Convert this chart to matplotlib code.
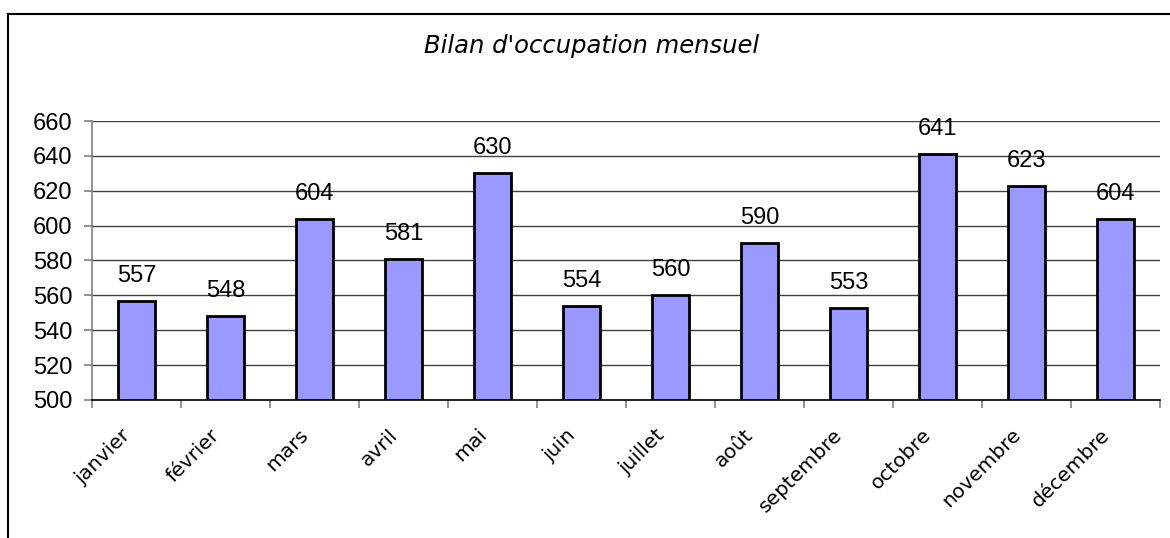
import matplotlib.pyplot as plt
import matplotlib.transforms as mtransforms
import numpy as np
from matplotlib.lines import Line2D

mois = ['janvier', 'février', 'mars', 'avril', 'mai', 'juin', 'juillet',
        'août', 'septembre', 'octobre', 'novembre', 'décembre']
occupation = [557, 548, 604, 581, 630, 554, 560, 590, 553, 641, 623, 604]
y_ticks = [500, 520, 540, 560, 580, 600, 620, 640, 660]

fig = plt.figure(figsize=(11.7, 5.38), dpi=100)
ax = fig.add_axes([92 / 1170, 1 - 400 / 538, (1160 - 92) / 1170, (400 - 121) / 538])

x = np.arange(len(mois))
ax.bar(x, [v - 500 for v in occupation], bottom=500, width=0.41,
       color='#9999FF', edgecolor='black', linewidth=2, zorder=3)

for xi, v in zip(x, occupation):
    ax.annotate(str(v), (xi, v), xytext=(0, 10), textcoords='offset points',
                ha='center', va='bottom', fontsize=17, family='Liberation Sans')

ax.set_xlim(-0.5, len(mois) - 0.5)
ax.set_ylim(500, 660)
ax.set_yticks(y_ticks)
ax.set_yticklabels([str(t) for t in y_ticks], fontsize=17, family='Liberation Sans')
ax.yaxis.grid(True, color='#404040', linewidth=1, zorder=0)

# étiquettes des mois, tournées à 45°
ax.set_xticks(np.arange(len(mois) + 1) - 0.5)
ax.set_xticklabels([])
ax.tick_params(axis='x', length=6, color='#808080', width=1.2)
ax.tick_params(axis='y', length=6, color='#808080', width=1.2, pad=8)
decalage = mtransforms.ScaledTranslation(-9 / 100, -32 / 100, fig.dpi_scale_trans)
for xi, m in zip(x, mois):
    ax.text(xi, 0, m, transform=ax.get_xaxis_transform() + decalage,
            rotation=45, rotation_mode='anchor', ha='right', va='center',
            fontsize=14.5, family='DejaVu Sans')

for side in ['top', 'right']:
    ax.spines[side].set_visible(False)
ax.spines['left'].set_color('#808080')
ax.spines['left'].set_linewidth(1.2)
ax.spines['bottom'].set_color('black')
ax.spines['bottom'].set_linewidth(1.2)

# cadre du graphique
fig.add_artist(Line2D([8 / 1170, 8 / 1170], [0, 1 - 14 / 538], color='black', linewidth=1.5))
fig.add_artist(Line2D([8 / 1170, 1], [1 - 14 / 538, 1 - 14 / 538], color='black', linewidth=1.5))

fig.text(592 / 1170, 1 - 46 / 538, "Bilan d'occupation mensuel", ha='center', va='center',
         fontsize=17.5, style='italic', family='DejaVu Sans')

fig.savefig('out.png', dpi=100)
